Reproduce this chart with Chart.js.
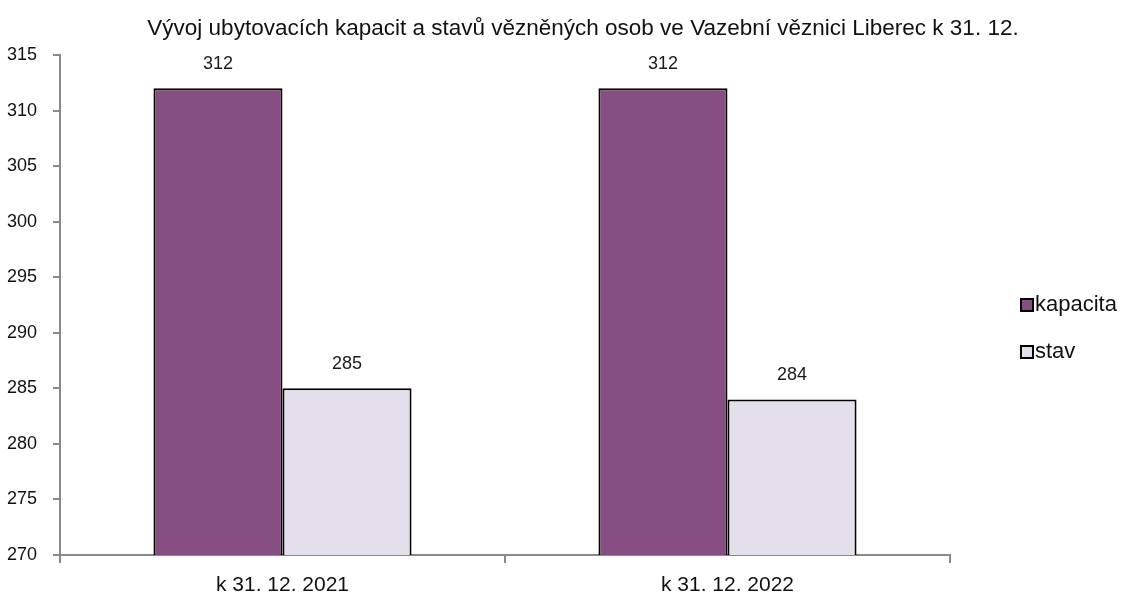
<!DOCTYPE html>
<html>
<head>
<meta charset="utf-8">
<script src="https://cdn.jsdelivr.net/npm/chart.js@4/dist/chart.umd.min.js"></script>
<style>
  html, body { margin: 0; padding: 0; background: #fff; }
  #wrap { width: 1126px; height: 599px; }
</style>
</head>
<body>
<div id="wrap"><canvas id="chart"></canvas></div>
<script>
const titleText = 'Vývoj ubytovacích kapacit a stavů vězněných osob ve Vazební věznici Liberec k 31. 12.';
const categories = ['k 31. 12. 2021', 'k 31. 12. 2022'];
const kapacita = [312, 312];
const stav = [285, 284];
const seriesNames = ['kapacita', 'stav'];

const FONT = '"Liberation Sans Narrow", "Arial Narrow", "Liberation Sans", sans-serif';

// value labels above the bars
const barLabels = {
    id: 'barLabels',
    afterDatasetsDraw(chart) {
        const ctx = chart.ctx;
        ctx.save();
        ctx.font = '18px ' + FONT;
        ctx.fillStyle = '#1a1a1a';
        ctx.textAlign = 'center';
        ctx.textBaseline = 'middle';
        chart.data.datasets.forEach((ds, i) => {
            chart.getDatasetMeta(i).data.forEach((bar, j) => {
                ctx.fillText(ds.data[j], bar.x, bar.y - 24);
            });
        });
        ctx.restore();
    }
};

// title centred over the plot like the original, and the legend at the right
const titleAndLegend = {
    id: 'titleAndLegend',
    afterDraw(chart) {
        const ctx = chart.ctx;
        ctx.save();
        ctx.fillStyle = '#111';
        ctx.font = '22.5px ' + FONT;
        ctx.textAlign = 'center';
        ctx.textBaseline = 'middle';
        ctx.fillText(titleText, 583, 29);

        ctx.font = '22px ' + FONT;
        ctx.textAlign = 'left';
        chart.data.datasets.forEach((ds, i) => {
            const y = 305 + i * 47;
            ctx.fillStyle = ds.backgroundColor;
            ctx.fillRect(1021, y - 6, 12, 12);
            ctx.strokeStyle = '#000';
            ctx.lineWidth = 2;
            ctx.strokeRect(1021, y - 6, 12, 12);
            ctx.fillStyle = '#111';
            ctx.fillText(ds.label, 1035, y);
        });
        ctx.restore();
    }
};

new Chart(document.getElementById('chart'), {
    type: 'bar',
    data: {
        labels: categories,
        datasets: [{
            label: seriesNames[0],
            data: kapacita,
            backgroundColor: '#874e82',
            borderColor: '#000',
            borderWidth: 2
        }, {
            label: seriesNames[1],
            data: stav,
            backgroundColor: '#e5dfec',
            borderColor: '#000',
            borderWidth: 2
        }]
    },
    options: {
        responsive: true,
        maintainAspectRatio: false,
        animation: false,
        layout: { padding: { top: 55, right: 176, bottom: 0, left: 0 } },
        datasets: { bar: { categoryPercentage: 0.58, barPercentage: 1 } },
        plugins: {
            title: { display: false },
            legend: { display: false },
            tooltip: { enabled: false }
        },
        scales: {
            x: {
                afterFit(scale) { scale.height = 44; },
                grid: { drawOnChartArea: false, color: '#898989', tickLength: 8, lineWidth: 2 },
                border: { color: '#898989', width: 2 },
                ticks: { color: '#111', font: { family: FONT, size: 21 }, padding: 10 }
            },
            y: {
                min: 270,
                max: 315,
                afterFit(scale) { scale.width = 60; },
                grid: { drawOnChartArea: false, color: '#898989', tickLength: 7, lineWidth: 2 },
                border: { color: '#898989', width: 2 },
                ticks: { stepSize: 5, color: '#111', font: { family: FONT, size: 18 }, padding: 16 }
            }
        }
    },
    plugins: [barLabels, titleAndLegend]
});
</script>
</body>
</html>
